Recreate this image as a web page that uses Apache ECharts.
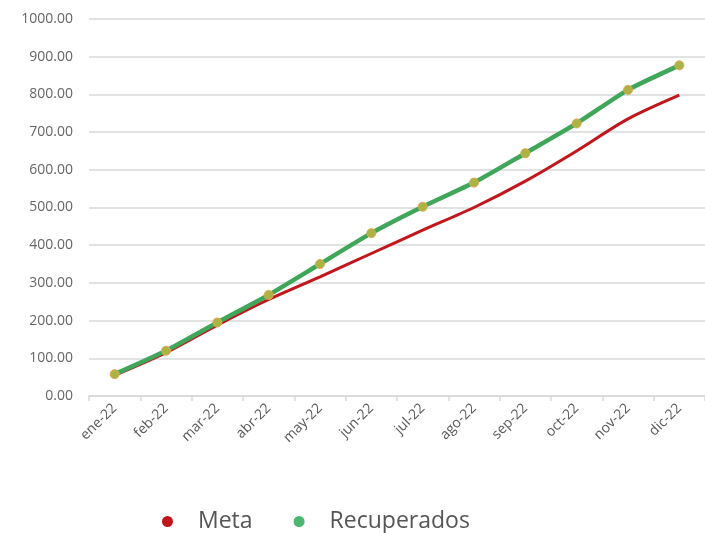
<!DOCTYPE html>
<html>
<head>
<meta charset="utf-8">
<script src="https://cdn.jsdelivr.net/npm/echarts@6/dist/echarts.min.js"></script>
<style>
html,body{margin:0;padding:0;background:#fff;}
#c{width:705px;height:533px;}
</style>
</head>
<body>
<div id="c"></div>
<script>
const categories = ['ene-22','feb-22','mar-22','abr-22','may-22','jun-22','jul-22','ago-22','sep-22','oct-22','nov-22','dic-22'];
const meta = [55, 115, 188, 256, 316, 378, 440, 500, 570, 650, 735, 798];
const recuperados = [58, 120, 195, 268, 350, 432, 502, 566, 644, 723, 812, 877];
const yTicks = {min: 0, max: 1000, interval: 100};

const chart = echarts.init(document.getElementById('c'), null, {renderer: 'canvas'});
chart.setOption({
  animation: false,
  backgroundColor: '#ffffff',
  grid: {left: 89, top: 19, width: 619, height: 377, containLabel: false},
  legend: {
    data: [
      {name: 'Meta', itemStyle: {color: '#c0161c', borderWidth: 0}},
      {name: 'Recuperados', itemStyle: {color: '#4cb572', borderWidth: 0}}
    ],
    left: 157, top: 505,
    icon: 'circle',
    itemWidth: 11, itemHeight: 11,
    itemGap: 41,
    textStyle: {fontFamily: 'Open Sans', fontSize: 23, color: '#555555', padding: [0, 0, 0, 20]}
  },
  xAxis: {
    type: 'category',
    data: categories,
    boundaryGap: true,
    axisLine: {show: true, lineStyle: {color: '#d9d9d9', width: 1.5}},
    axisTick: {show: true, length: 5, lineStyle: {color: '#d9d9d9', width: 1.5}},
    axisLabel: {rotate: 45, fontFamily: 'Open Sans', fontSize: 14, color: '#595959', margin: 10}
  },
  yAxis: {
    type: 'value',
    min: yTicks.min, max: yTicks.max, interval: yTicks.interval,
    axisLine: {show: false},
    axisTick: {show: false},
    splitLine: {lineStyle: {color: '#d9d9d9', width: 1.5}},
    axisLabel: {formatter: v => v.toFixed(2), fontFamily: 'Open Sans', fontSize: 14, color: '#666666', margin: 16}
  },
  series: [
    {
      name: 'Meta', type: 'line', data: meta, smooth: 0.3,
      symbol: 'none', z: 2,
      lineStyle: {color: '#c0161c', width: 3},
      itemStyle: {color: '#c0161c'}
    },
    {
      name: 'Recuperados', type: 'line', data: recuperados, smooth: 0.2,
      symbol: 'circle', symbolSize: 9, z: 3,
      lineStyle: {color: '#3fa65a', width: 4.5},
      itemStyle: {color: '#aab343', borderColor: '#e0a94a', borderWidth: 1}
    }
  ]
});
</script>
</body>
</html>
